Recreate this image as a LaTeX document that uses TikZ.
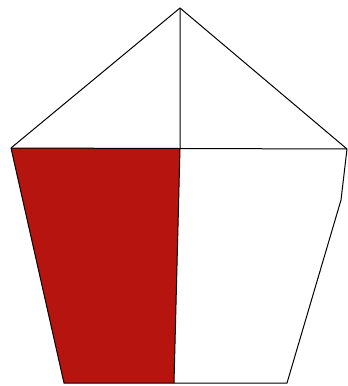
\documentclass[tikz,border=0pt]{standalone}
\definecolor{flagred}{HTML}{B5140F}
\begin{document}
\begin{tikzpicture}[x=1pt,y=-1pt,edge/.style={line width=1pt,black}]
\useasboundingbox (0,0) rectangle (348,386);
\coordinate (A) at (180,8);
\coordinate (L) at (11,148);
\coordinate (R) at (347,149);
\coordinate (M) at (180,148);
\coordinate (Rm) at (341,200);
\coordinate (BL) at (64,383);
\coordinate (BR) at (287,383);
\coordinate (BM) at (174,383);
\fill[flagred] (L) -- (M) -- (BM) -- (BL) -- cycle;
\draw[edge] (L) -- (A) -- (R);
\draw[edge] (L) -- (R);
\draw[edge] (A) -- (M) -- (BM);
\draw[edge] (L) -- (BL) -- (BR) -- (Rm) -- (R);
\end{tikzpicture}
\end{document}
